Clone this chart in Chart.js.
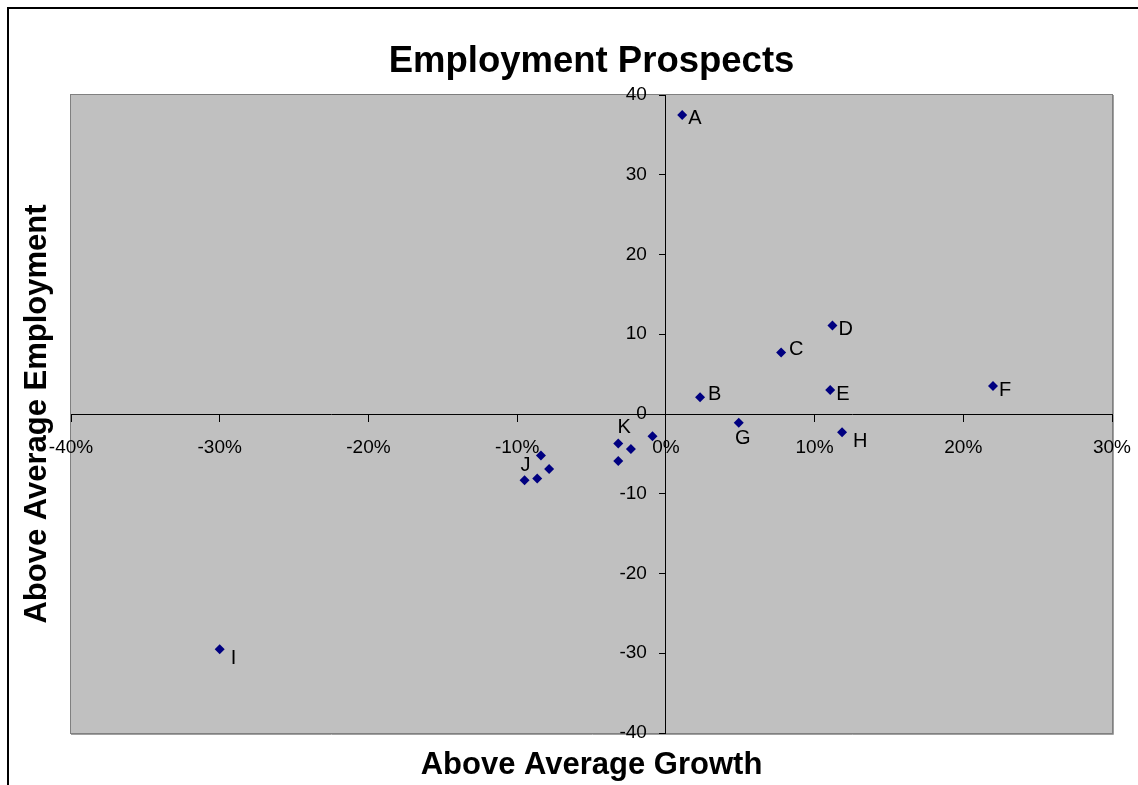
<!DOCTYPE html>
<html>
<head>
<meta charset="utf-8">
<title>Employment Prospects</title>
<script src="https://cdn.jsdelivr.net/npm/chart.js@4.4.1/dist/chart.umd.min.js"></script>
<style>
  html, body { margin: 0; padding: 0; background: #fff; }
  #wrap { width: 1138px; height: 785px; position: relative; }
</style>
</head>
<body>
<div id="wrap"><canvas id="prospectsChart"></canvas></div>
<script>
// point names (blank = no label shown)
const pointNames = ['A', 'B', 'C', 'D', 'E', 'F', 'G', 'H', 'I', 'J', '', '', '', 'K', '', '', ''];
// above average growth (%)
const growth = [1.1, 2.3, 7.75, 11.2, 11.05, 22.0, 4.9, 11.85, -30.0, -9.5, -8.4, -8.65, -7.85, -3.2, -2.35, -3.2, -0.9];
// above average employment
const employment = [37.5, 2.1, 7.7, 11.1, 3.0, 3.5, -1.1, -2.3, -29.5, -8.3, -5.2, -8.1, -6.9, -3.7, -4.4, -5.9, -2.8];
// tick values
const xTicks = [-40, -30, -20, -10, 0, 10, 20, 30];
const yTicks = [-40, -30, -20, -10, 0, 10, 20, 30, 40];

const FONT = "'Liberation Sans', Arial, sans-serif";

// where each name sits next to its marker
const labelSide = {
    A: 'right', B: 'rightHigh', C: 'rightHigh', D: 'right', E: 'right', F: 'right',
    G: 'below', H: 'belowRight', I: 'belowRight', J: 'above', K: 'aboveRight'
};
const sideStyle = {
    right:      { dx: 6,  dy: 4,   align: 'left' },
    rightHigh:  { dx: 8,  dy: -3,  align: 'left' },
    below:      { dx: 4,  dy: 16,  align: 'center' },
    belowRight: { dx: 11, dy: 9,   align: 'left' },
    above:      { dx: 1,  dy: -15, align: 'center' },
    aboveRight: { dx: 6,  dy: -16, align: 'center' }
};

const points = growth.map((g, i) => ({ x: g, y: employment[i] }));

const framePlugin = {
    id: 'frame',
    beforeDraw(chart) {
        const { ctx, chartArea: a } = chart;
        ctx.save();
        // outer frame (left + top only)
        ctx.fillStyle = '#000';
        ctx.fillRect(7, 7, chart.width - 7, 2);
        ctx.fillRect(7, 7, 2, chart.height - 7);
        // plot area
        ctx.fillStyle = '#c0c0c0';
        ctx.fillRect(a.left, a.top, a.right - a.left, a.bottom - a.top);
        ctx.strokeStyle = '#808080';
        ctx.lineWidth = 1;
        ctx.strokeRect(a.left - 0.5, a.top - 0.5, a.right - a.left + 1, a.bottom - a.top + 1);
        ctx.strokeStyle = '#a0a0a0';
        ctx.beginPath();
        ctx.moveTo(a.left, a.bottom + 1.5);
        ctx.lineTo(a.right + 1.5, a.bottom + 1.5);
        ctx.lineTo(a.right + 1.5, a.top);
        ctx.stroke();
        ctx.restore();
    },
    afterDatasetsDraw(chart) {
        const { ctx } = chart;
        const meta = chart.getDatasetMeta(0);
        ctx.save();
        ctx.font = '20px ' + FONT;
        ctx.fillStyle = '#000';
        ctx.textBaseline = 'middle';
        meta.data.forEach((pt, i) => {
            const name = pointNames[i];
            if (!name) return;
            const s = sideStyle[labelSide[name]];
            ctx.textAlign = s.align;
            ctx.fillText(name, pt.x + s.dx, pt.y + s.dy);
        });
        ctx.restore();
    },
    afterDraw(chart) {
        const { ctx, chartArea: a } = chart;
        ctx.save();
        ctx.fillStyle = '#000';
        ctx.font = 'bold 31px ' + FONT;
        ctx.textAlign = 'center';
        ctx.textBaseline = 'middle';
        ctx.fillText('Above Average Growth', (a.left + a.right) / 2, 765);
        ctx.translate(37, (a.top + a.bottom) / 2);
        ctx.rotate(-Math.PI / 2);
        ctx.fillText('Above Average Employment', 0, 0);
        ctx.restore();
    }
};

const ctx = document.getElementById('prospectsChart').getContext('2d');
const prospectsChart = new Chart(ctx, {
    type: 'scatter',
    data: {
        datasets: [{
            label: 'Prospects',
            data: points,
            pointStyle: 'rectRot',
            pointRadius: 5,
            backgroundColor: '#000080',
            borderColor: '#000080',
            borderWidth: 0
        }]
    },
    options: {
        responsive: true,
        maintainAspectRatio: false,
        animation: false,
        events: [],
        layout: { padding: { left: 71, right: 26, top: 0, bottom: 52 } },
        plugins: {
            legend: { display: false },
            tooltip: { enabled: false },
            title: {
                display: true,
                text: 'Employment Prospects',
                color: '#000',
                font: { family: FONT, size: 36.5, weight: 'bold' },
                padding: { top: 40, bottom: 11.2 }
            }
        },
        scales: {
            x: {
                type: 'linear',
                position: { y: 0 },
                min: xTicks[0],
                max: xTicks[xTicks.length - 1],
                afterBuildTicks: s => { s.ticks = xTicks.map(v => ({ value: v })); },
                afterFit: s => { s.height = 0; s.paddingLeft = 0; s.paddingRight = 0; },
                grid: { display: true, drawOnChartArea: false, drawTicks: true, tickLength: 7, color: '#000' },
                border: { display: true, color: '#000', width: 1 },
                ticks: {
                    autoSkip: false,
                    maxRotation: 0,
                    padding: 15,
                    color: '#000',
                    font: { family: FONT, size: 19 },
                    callback: v => v + '%'
                }
            },
            y: {
                type: 'linear',
                position: { x: 0 },
                min: yTicks[0],
                max: yTicks[yTicks.length - 1],
                afterBuildTicks: s => { s.ticks = yTicks.map(v => ({ value: v })); },
                afterFit: s => { s.width = 0; s.paddingTop = 0; s.paddingBottom = 0; },
                grid: { display: true, drawOnChartArea: false, drawTicks: true, tickLength: 6, color: '#000' },
                border: { display: true, color: '#000', width: 1 },
                ticks: {
                    autoSkip: false,
                    color: '#000',
                    font: { family: FONT, size: 19 },
                    callback: v => v + '\u2002\u2002'
                }
            }
        }
    },
    plugins: [framePlugin]
});
</script>
</body>
</html>
